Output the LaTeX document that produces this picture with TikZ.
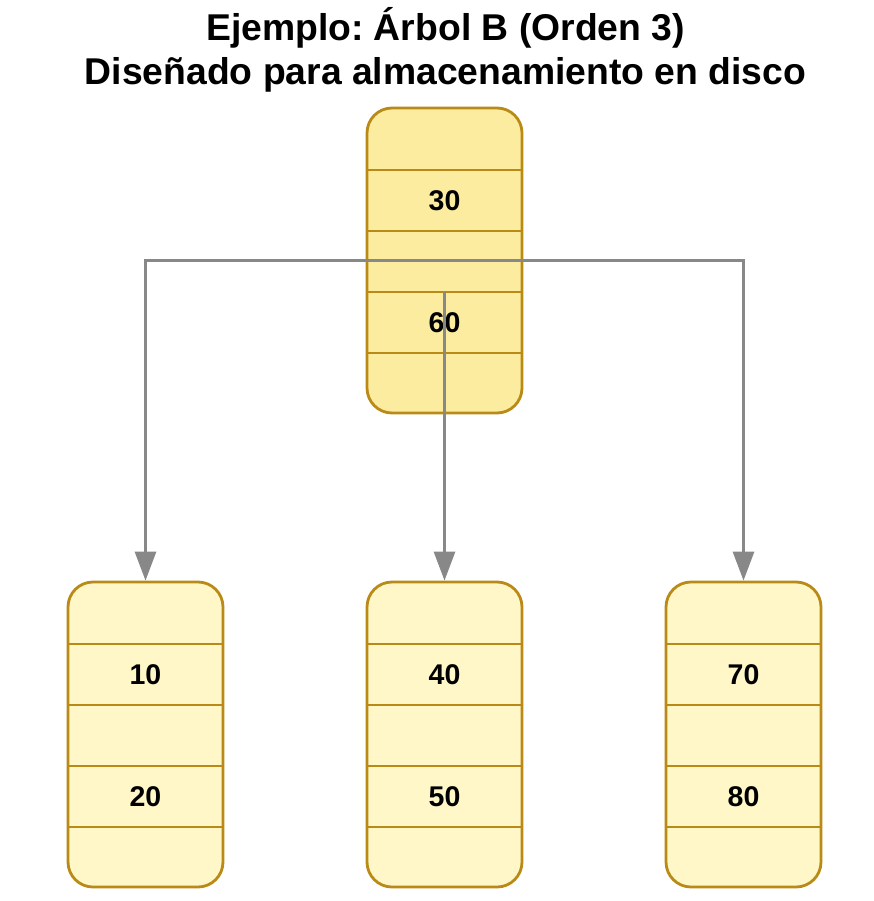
\documentclass[tikz,border=0pt]{standalone}
\usepackage{fontspec}
\setmainfont{Liberation Sans}
\usetikzlibrary{arrows.meta}
\frenchspacing
\definecolor{rootfill}{HTML}{FCEC9F}
\definecolor{leaffill}{HTML}{FFF7C8}
\definecolor{nodeline}{HTML}{BA8A17}
\definecolor{edgegray}{HTML}{888888}
% one B-tree node: name, x centre, y top, fill, first key, second key
\newcommand{\btnode}[6]{%
\node[bnode, fill=#4] (#1) at (#2, #3+152.5) {};
\foreach \s in {62,123,184,245}
  \draw[sepline] (#2-77.5, #3+\s) -- (#2+77.5, #3+\s);
\node[keytext] (#1-k1) at (#2, #3+92.5) {#5};
\node[keytext] (#1-k2) at (#2, #3+214.5) {#6};
\coordinate (#1-p1) at (#2, #3+184);
}
\begin{document}
\begin{tikzpicture}[x=1pt, y=-1pt,
  bnode/.style={draw=nodeline, line width=2.8pt, rounded corners=25pt,
    minimum width=155pt, minimum height=305pt, inner sep=0pt},
  sepline/.style={draw=nodeline, line width=2.8pt},
  keytext/.style={font=\fontsize{28.5}{32}\selectfont\bfseries, inner sep=0pt},
  edge/.style={draw=edgegray, line width=3pt,
    -{Triangle[width=21pt, length=29pt]}}]
\useasboundingbox (0,0) rectangle (874,901);
\node[align=center, inner sep=0pt, font=\fontsize{37.3}{44}\selectfont\bfseries] (title) at (445.5, 50)
  {Ejemplo: Árbol B (Orden 3)\\Diseñado para almacenamiento en disco};
\btnode{root}{444.5}{108}{rootfill}{30}{60}
\btnode{leafA}{145.5}{582}{leaffill}{10}{20}
\btnode{leafB}{444.5}{582}{leaffill}{40}{50}
\btnode{leafC}{743.5}{582}{leaffill}{70}{80}
% pointers from the root
\draw[edge] (root.center) -| (leafA.north);
\draw[edge] (root.center) -| (leafC.north);
\draw[edge] (root-p1) -- (leafB.north);
\end{tikzpicture}
\end{document}
